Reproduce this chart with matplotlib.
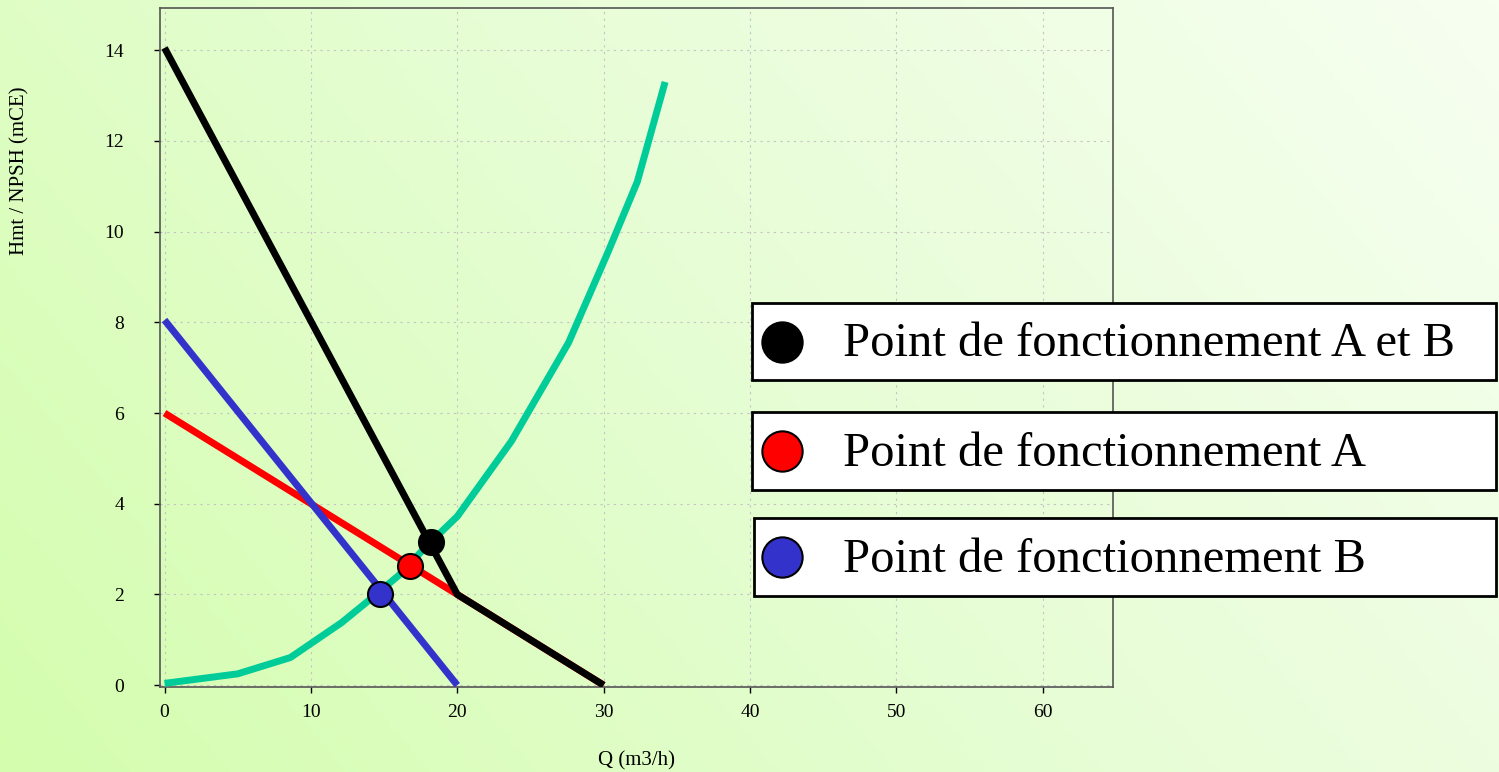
import numpy as np
import matplotlib
matplotlib.use('Agg')
import matplotlib.pyplot as plt
from matplotlib.patches import Rectangle
from matplotlib.colors import LinearSegmentedColormap

plt.rcParams['font.family'] = ['Liberation Serif', 'DejaVu Serif']

# courbes (Q en m3/h, H en mCE)
q_reseau = [0, 5, 8.6, 12.1, 14, 16, 18, 20, 23.7, 27.6, 30.3, 32.3, 34.2]
h_reseau = [0.04, 0.25, 0.61, 1.38, 1.88, 2.42, 3.1, 3.72, 5.38, 7.55, 9.55, 11.1, 13.3]

q_pompe_a = [0, 30]
h_pompe_a = [6, 0]

q_pompe_b = [0, 20]
h_pompe_b = [8.05, 0]

q_serie = [0, 20, 30]
h_serie = [14.05, 2.0, 0]

# points de fonctionnement
pts_q = [18.2, 16.75, 14.75]
pts_h = [3.15, 2.63, 2.02]
pts_col = ['black', 'red', '#3333cc']
labels = ['Point de fonctionnement A et B', 'Point de fonctionnement A',
          'Point de fonctionnement B']

xticks = [0, 10, 20, 30, 40, 50, 60]
yticks = [0, 2, 4, 6, 8, 10, 12, 14]

W, H = 1499, 772
fig = plt.figure(figsize=(W / 100, H / 100), dpi=100)

# fond degrade
bg = fig.add_axes([0, 0, 1, 1], zorder=-10)
gx, gy = np.meshgrid(np.linspace(0, 1, 300), np.linspace(1, 0, 160))
grad = 0.7 * gx + 0.3 * gy
cmap = LinearSegmentedColormap.from_list('vert', ['#d4fdae', '#e6fdd4', '#f7fff1'])
bg.imshow(grad, cmap=cmap, aspect='auto', extent=[0, 1, 0, 1], vmin=0, vmax=1)
bg.axis('off')

ax = fig.add_axes([160 / W, 1 - 687 / H, (1113 - 160) / W, (687 - 8) / H])
ax.set_facecolor('none')

ax.plot(q_reseau, h_reseau, color='#00cc99', lw=5, solid_capstyle='butt', zorder=3)
ax.plot(q_pompe_a, h_pompe_a, color='red', lw=5, solid_capstyle='butt', zorder=4)
ax.plot(q_pompe_b, h_pompe_b, color='#3333cc', lw=5, solid_capstyle='butt', zorder=5)
ax.plot(q_serie, h_serie, color='black', lw=5, solid_capstyle='butt', zorder=6)

for q, h, c in zip(pts_q, pts_h, pts_col):
    ax.plot(q, h, 'o', ms=18, mfc=c, mec='black', mew=1.5, zorder=8)

ax.set_xlim(-0.31, 64.8)
ax.set_ylim(-0.04, 14.93)
ax.set_xticks(xticks)
ax.set_yticks(yticks)
ax.tick_params(labelsize=14, length=4, width=1, color='black')
ax.tick_params(axis='x', pad=8)
ax.tick_params(axis='y', pad=22)
ax.grid(True, color='#c4c4c4', ls=(0, (2, 4)), lw=0.8)
for s in ax.spines.values():
    s.set_color('#555555')
    s.set_linewidth(1.2)

ax.set_xlabel('Q (m3/h)', fontsize=15, labelpad=22)
fig.text(20 / W, 1 - 171 / H, 'Hmt / NPSH (mCE)', rotation=90, fontsize=15,
         ha='center', va='center')

# boites de legende
ov = fig.add_axes([0, 0, 1, 1], zorder=20)
ov.set_xlim(0, W)
ov.set_ylim(H, 0)
ov.axis('off')
boxes = [(752, 303, 380), (752, 412, 490), (754, 518, 596)]
for (x0, y0, y1), c, lab in zip(boxes, pts_col, labels):
    ov.add_patch(Rectangle((x0, y0), 1496 - x0, y1 - y0, facecolor='white',
                           edgecolor='black', lw=2))
    ym = (y0 + y1) / 2
    ov.plot(782, ym, 'o', ms=29, mfc=c, mec='black', mew=1.5)
    ov.text(843, ym + 3, lab, fontsize=35, ha='left', va='center')

fig.savefig('out.png', dpi=100)
